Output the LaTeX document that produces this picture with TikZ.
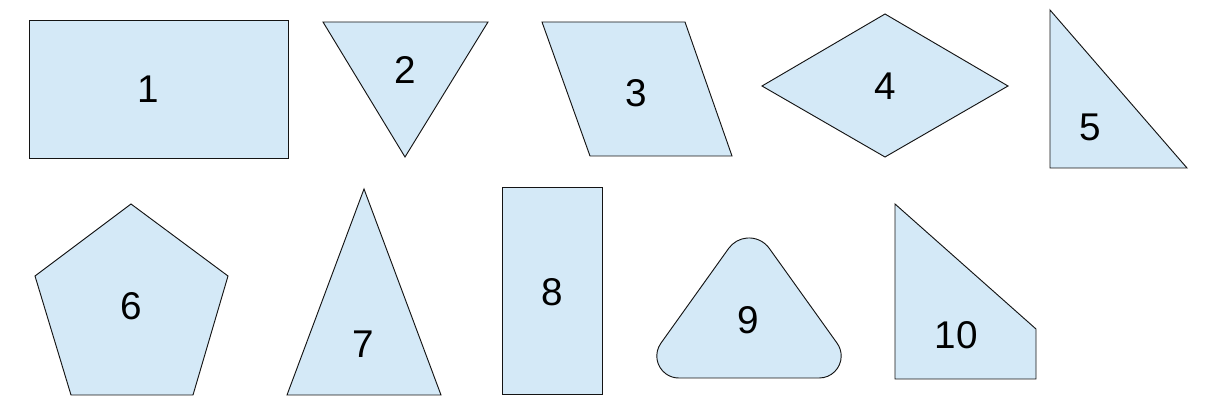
\documentclass[tikz,border=0pt]{standalone}
\usepackage{fontspec}
\setmainfont{Liberation Sans}
\usetikzlibrary{calc}
\definecolor{shapefill}{RGB}{212,233,247}
\definecolor{shapeline}{RGB}{20,20,20}

\begin{document}
\begin{tikzpicture}[x=0.75pt,y=-0.75pt,
  shapebox/.style={fill=shapefill,draw=shapeline,line width=0.7pt,line join=miter},
  numlabel/.style={font=\fontsize{29}{30}\selectfont,inner sep=0pt}]
  \useasboundingbox (0,0) rectangle (1217,416);
  % top row
  \filldraw[shapebox] (29,20) rectangle (288,158);
  \filldraw[shapebox] (323,22) -- (488,22) -- (405,157) -- cycle;
  \filldraw[shapebox] (542,22) -- (685,22) -- (732,156) -- (590,156) -- cycle;
  \filldraw[shapebox] (762,86) -- (885,14) -- (1008,86) -- (885,157) -- cycle;
  \filldraw[shapebox] (1050,10) -- (1187,168) -- (1050,168) -- cycle;
  % bottom row
  \filldraw[shapebox] (131,204) -- (228,276) -- (193,395) -- (71,395) -- (35,276) -- cycle;
  \filldraw[shapebox] (364,189) -- (441,395) -- (287,395) -- cycle;
  \filldraw[shapebox] (502,187) rectangle (602,394);
  \filldraw[shapebox] (678.8,378) -- (819.2,378)
    arc[start angle=90,end angle=-35.6,radius=22] -- (769.3,248.4)
    arc[start angle=-35.6,end angle=-144.4,radius=25] -- (660.9,343.2)
    arc[start angle=-144.4,end angle=-270,radius=22] -- cycle;
  \filldraw[shapebox] (895,204) -- (1036,329) -- (1036,379) -- (895,379) -- cycle;
  % numbers
  \foreach \n/\pos in {1/{(148,89)},2/{(405,70)},3/{(636,93)},4/{(885,86)},
                       5/{(1090,127)},6/{(131,306)},7/{(363,344)},8/{(552,292)},
                       9/{(748,320)},10/{(956,335)}}{
    \node[numlabel] (lbl\n) at \pos {\n};
  }
\end{tikzpicture}
\end{document}
